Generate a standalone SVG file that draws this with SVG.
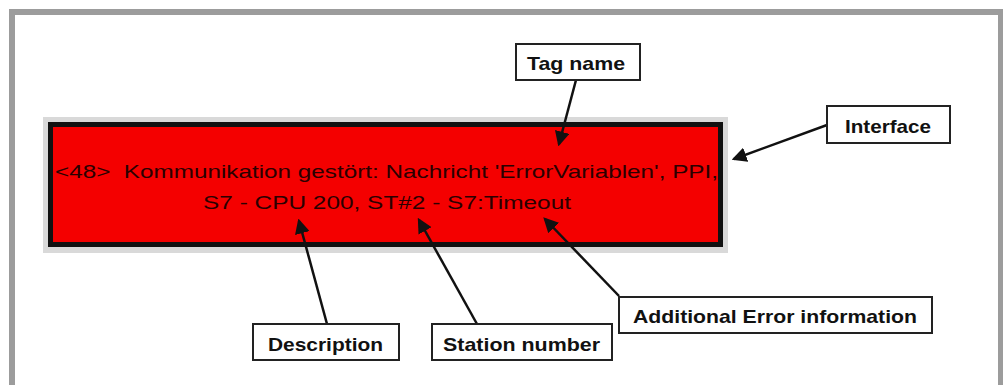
<svg xmlns="http://www.w3.org/2000/svg" width="1003" height="385" viewBox="0 0 1003 385">
<defs>
<style>
.lbl{fill:#fff;stroke:#222;stroke-width:2}
.lt{font-family:"Liberation Sans",Arial,sans-serif;font-weight:bold;font-size:19px;fill:#111}
.mt{font-family:"Liberation Sans",Arial,sans-serif;font-size:19px;fill:#2a0000;white-space:pre}
.con{stroke:#111;stroke-width:2.5;fill:none;marker-end:url(#ah)}
</style>
<marker id="ah" markerWidth="6" markerHeight="6" refX="5" refY="3" orient="auto" markerUnits="strokeWidth">
<path d="M0,0 L6,3 L0,6 Z" fill="#111"/>
</marker>
</defs>
<rect width="1003" height="385" fill="#fff"/>
<rect x="12" y="12" width="989" height="400" fill="none" stroke="#9c9c9c" stroke-width="6"/>

<g id="alarm">
<rect x="43" y="117" width="685" height="136" fill="#d9d9d9"/>
<rect x="50.5" y="124.5" width="670" height="120" fill="#f40000" stroke="#111" stroke-width="5"/>
<text class="mt" x="55" y="178" textLength="663" lengthAdjust="spacingAndGlyphs" xml:space="preserve">&lt;48&gt;  Kommunikation gestört: Nachricht 'ErrorVariablen', PPI,</text>
<text class="mt" x="203" y="209" textLength="368" lengthAdjust="spacingAndGlyphs">S7 - CPU 200, ST#2 - S7:Timeout</text>
</g>

<g id="connectors">
<line class="con" x1="576" y1="80" x2="559" y2="144"/>
<line class="con" x1="827" y1="125" x2="734" y2="159"/>
<line class="con" x1="327" y1="324" x2="299" y2="221"/>
<line class="con" x1="477" y1="324" x2="419" y2="220"/>
<line class="con" x1="619" y1="296" x2="545" y2="219"/>
</g>

<g id="tag-name">
<rect class="lbl" x="516" y="44" width="124" height="36"/>
<text class="lt" x="527" y="70" textLength="98" lengthAdjust="spacingAndGlyphs">Tag name</text>
</g>
<g id="interface">
<rect class="lbl" x="827" y="106" width="123" height="37"/>
<text class="lt" x="845" y="133" textLength="86" lengthAdjust="spacingAndGlyphs">Interface</text>
</g>
<g id="description">
<rect class="lbl" x="253" y="324" width="146" height="36"/>
<text class="lt" x="268" y="351" textLength="115" lengthAdjust="spacingAndGlyphs">Description</text>
</g>
<g id="station-number">
<rect class="lbl" x="432" y="324" width="180" height="36"/>
<text class="lt" x="443" y="351" textLength="157" lengthAdjust="spacingAndGlyphs">Station number</text>
</g>
<g id="additional-error">
<rect class="lbl" x="619" y="297" width="313" height="36"/>
<text class="lt" x="633" y="323" textLength="284" lengthAdjust="spacingAndGlyphs">Additional Error information</text>
</g>
</svg>
